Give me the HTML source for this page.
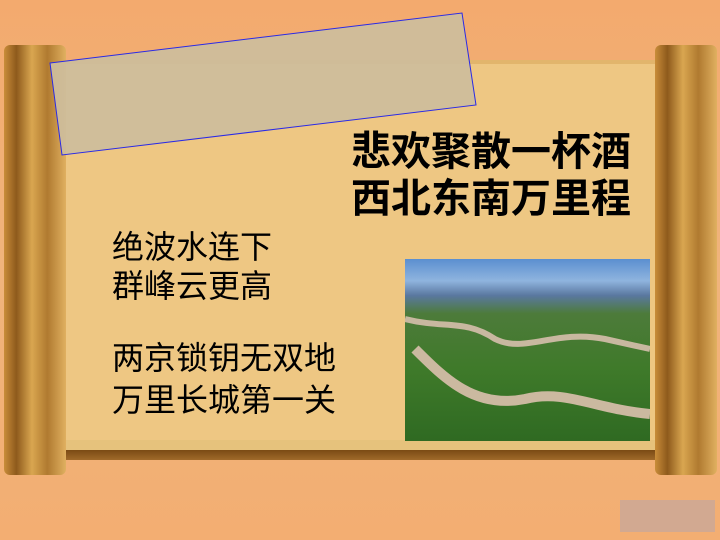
<!DOCTYPE html>
<html><head><meta charset="utf-8"><style>
body{margin:0;width:720px;height:540px;overflow:hidden;position:relative;background:linear-gradient(#f3aa6e,#f0b47c 50%,#f3ae72);font-family:"Liberation Sans","Noto Sans CJK SC",sans-serif}
div,svg{position:absolute}
.t{color:#000;white-space:nowrap;line-height:1}
</style></head><body>
<div style="left:55px;top:60px;width:610px;height:395px;background:#eec783;box-shadow:inset 0 0 0 4px #e2b56c"></div>
<div style="left:55px;top:440px;width:610px;height:10px;background:#e6c27c"></div>
<div style="left:55px;top:450px;width:610px;height:10px;background:linear-gradient(#7a4a14,#a06a2a)"></div>
<div style="left:4px;top:45px;width:62px;height:430px;background:linear-gradient(90deg,#c98d3a,#8e5a1c 20%,#d9a650 45%,#b07a30 70%,#e0b060);border-radius:6px"></div>
<div style="left:655px;top:45px;width:62px;height:430px;background:linear-gradient(90deg,#c98d3a,#8e5a1c 20%,#d9a650 45%,#b07a30 70%,#e0b060);border-radius:6px"></div>
<svg width="720" height="540" style="left:0;top:0">
<polygon points="50,63 462,13 476,105 62,155" fill="#cdbd9c" fill-opacity="0.92" stroke="#2a2ae6" stroke-width="1"/>
</svg>
<div class="t" style="left:351px;top:132px;font-size:40px;font-weight:bold">悲欢聚散一杯酒</div>
<div class="t" style="left:351px;top:179px;font-size:40px;font-weight:bold">西北东南万里程</div>
<div class="t" style="left:112px;top:231px;font-size:32px">绝波水连下</div>
<div class="t" style="left:112px;top:270px;font-size:32px">群峰云更高</div>
<div class="t" style="left:112px;top:342px;font-size:32px">两京锁钥无双地</div>
<div class="t" style="left:112px;top:384px;font-size:32px">万里长城第一关</div>
<div style="left:405px;top:259px;width:245px;height:182px;overflow:hidden;background:linear-gradient(#5b8fd0 0%,#8fb4de 12%,#5a78a0 20%,#4d7b3a 30%,#3f7a2a 60%,#2f6a22 100%)">
<svg width="245" height="182" style="left:0;top:0"><path d="M0,60 C40,70 60,60 90,80 C120,95 150,70 200,80 L245,90" stroke="#c8b8a0" stroke-width="6" fill="none"/><path d="M10,90 C40,120 70,150 120,140 C160,130 190,150 245,155" stroke="#cbb9a0" stroke-width="10" fill="none"/></svg>
</div>
<div style="left:620px;top:500px;width:95px;height:32px;background:#c9a898;opacity:.8"></div>
</body></html>
